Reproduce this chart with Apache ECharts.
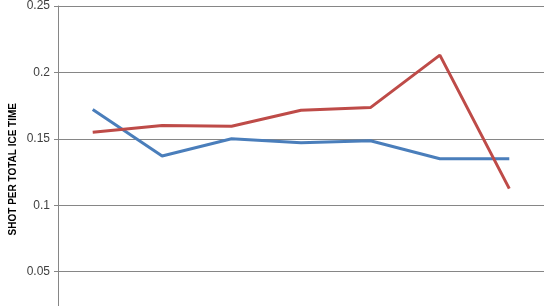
<!DOCTYPE html>
<html><head><meta charset="utf-8">
<script src="https://cdn.jsdelivr.net/npm/echarts@6/dist/echarts.min.js"></script>
<style>html,body{margin:0;padding:0;background:#fff;overflow:hidden}#c{width:544px;height:350px}</style>
</head><body><div id="c"></div>
<script>
const categories = ['1','2','3','4','5','6','7'];
const blueValues = [0.172, 0.137, 0.150, 0.147, 0.1485, 0.135, 0.135];
const redValues  = [0.155, 0.160, 0.1595, 0.1715, 0.1735, 0.213, 0.1125];
const yTicks = [0, 0.05, 0.1, 0.15, 0.2, 0.25];
const axisTitle = 'SHOT PER TOTAL ICE TIME';

const chart = echarts.init(document.getElementById('c'), null, {renderer:'canvas'});
chart.setOption({
  animation:false,
  grid:{left:58, right:0, top:5.5, bottom:12, containLabel:false},
  xAxis:{type:'category', data:categories, boundaryGap:true, show:false},
  yAxis:{type:'value', min:yTicks[0], max:yTicks[yTicks.length-1], interval:0.05,
    axisLine:{show:true, lineStyle:{color:'#868686', width:1}},
    axisTick:{show:true, length:4, lineStyle:{color:'#868686'}},
    splitLine:{show:true, lineStyle:{color:'#868686', width:1}},
    axisLabel:{color:'#404040', fontFamily:'Liberation Sans', fontSize:12, margin:8,
      formatter:v=>String(+v.toFixed(2))}
  },
  graphic:[{type:'text', left:8, top:103, rotation:Math.PI/2,
    style:{text:axisTitle, fill:'#000', font:'bold 10px "Liberation Sans"'}}],
  series:[
    {type:'line', data:blueValues, symbol:'none', lineStyle:{color:'#4a7ebb', width:3}},
    {type:'line', data:redValues, symbol:'none', lineStyle:{color:'#be4b48', width:3}}
  ]
});
</script></body></html>
